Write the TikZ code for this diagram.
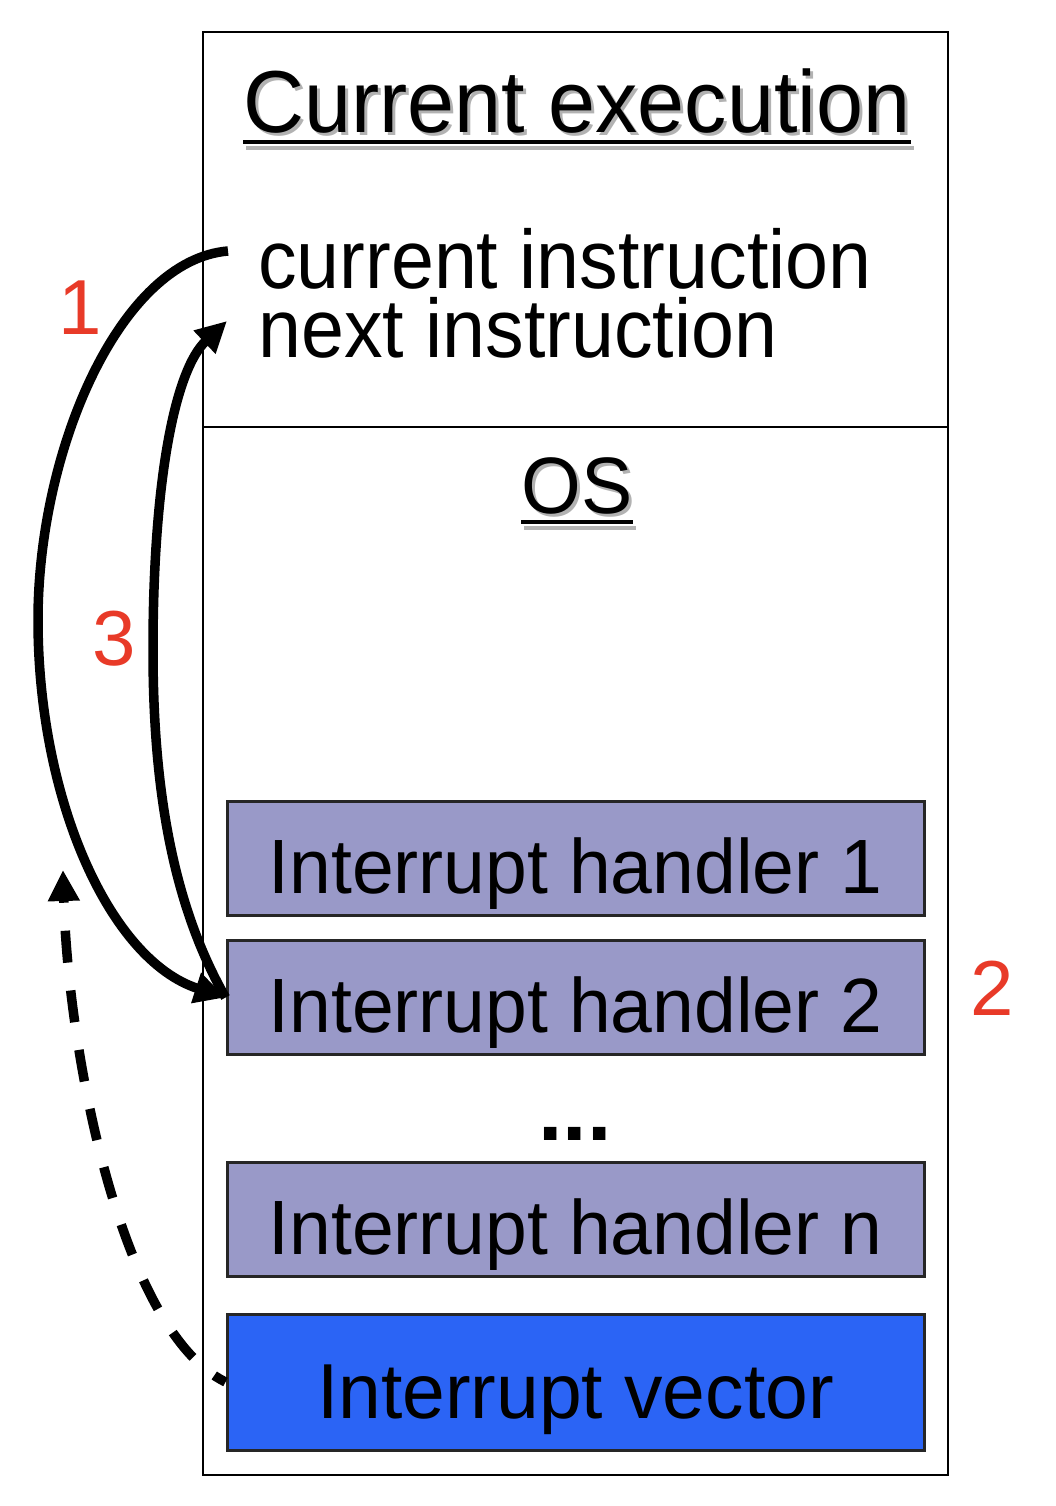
\documentclass[tikz,border=0pt]{standalone}
\usepackage{fontspec}
\setmainfont{Liberation Sans}
\usetikzlibrary{arrows.meta}
\definecolor{hcol}{RGB}{153,153,200}
\definecolor{vcol}{RGB}{43,100,245}
\definecolor{rcol}{RGB}{232,58,40}
\newcommand{\nsq}[2][0.96]{\scalebox{#1}[1]{#2}}
\begin{document}
\begin{tikzpicture}[x=1pt,y=-1pt,
  frame/.style={draw=black, line width=2pt},
  hbox/.style={draw=black!85, line width=3pt, fill=hcol, minimum width=697pt, minimum height=114pt, inner sep=0pt, text height=80pt, text depth=10pt, font=\fontsize{77}{77}\selectfont},
  vbox/.style={hbox, fill=vcol, minimum height=136pt, text height=82pt, font=\fontsize{78}{78}\selectfont},
  bodytxt/.style={inner sep=0pt, anchor=base west, text height=58pt, text depth=0pt, font=\fontsize{83}{83}\selectfont},
  headtxt/.style={inner sep=0pt, anchor=base, font=\fontsize{88}{88}\selectfont},
  shadowtxt/.style={headtxt, text=black!30},
  redlab/.style={inner sep=0pt, anchor=base, text=rcol, font=\fontsize{78}{78}\selectfont},
  arr/.style={line width=9.5pt, -{Triangle[length=31pt,width=30pt]}},
  darr/.style={arr, dash pattern=on 32pt off 28pt, dash phase=19pt},
]
\useasboundingbox (0,0) rectangle (1056,1506);
% outer frame and divider
\node[frame, minimum width=745pt, minimum height=1443pt, inner sep=0pt] (outer) at (575.5,753.5) {};
\draw[line width=2pt] (outer.west |- 0,427) -- (outer.east |- 0,427);
% title with shadow
\node[shadowtxt] (titlesh) at (580,136) {\nsq{Current execution}};
\draw[black!30, line width=4pt] ([yshift=-12pt]titlesh.base west) -- ([yshift=-12pt]titlesh.base east);
\node[headtxt] (title) at (577,133) {\nsq{Current execution}};
\draw[line width=4pt] ([yshift=-9pt]title.base west) -- ([yshift=-9pt]title.base east);
% instructions
\node[bodytxt] (cur) at (258,288) {\nsq[0.93]{current instruction}};
\node[bodytxt] (nxt) at (258,357) {\nsq[0.93]{next instruction}};
% OS
\node[shadowtxt, font=\fontsize{80}{80}\selectfont] (ossh) at (580,516) {\nsq{OS}};
\draw[black!30, line width=4pt] ([yshift=-12pt]ossh.base west) -- ([yshift=-12pt]ossh.base east);
\node[headtxt, font=\fontsize{80}{80}\selectfont] (os) at (577,513) {\nsq{OS}};
\draw[line width=4pt] ([yshift=-9pt]os.base west) -- ([yshift=-9pt]os.base east);
% handlers
\node[hbox] (h1) at (575.5,858) {\nsq[0.975]{Interrupt handler 1}};
\node[hbox] (h2) at (575.5,997.5) {\nsq[0.975]{Interrupt handler 2}};
\node[inner sep=0pt, anchor=base, font=\fontsize{88}{88}\selectfont\bfseries] (dots) at (575,1140) {...};
\node[hbox] (hn) at (575.5,1219.5) {\nsq[0.975]{Interrupt handler n}};
\node[vbox] (vec) at (575.5,1382) {\nsq[0.985]{Interrupt vector}};
% red step labels
\node[redlab] (l1) at (80,334) {1};
\node[redlab] (l3) at (114,665) {3};
\node[redlab] (l2) at (992,1015) {2};
% connectors
\coordinate (a1s) at (228,251);
\coordinate (a3e) at (227,321);
\coordinate (ade) at (63,870);
\draw[arr] (a1s) .. controls (120,260) and (38,450) .. (38,620) .. controls (38,800) and (110,960) .. (h2.west);
\draw[arr] (h2.west) .. controls (170,900) and (153,780) .. (153,650) .. controls (153,480) and (175,370) .. (a3e);
\draw[darr] (vec.west) .. controls (120,1330) and (68,1050) .. (ade);
\end{tikzpicture}
\end{document}
